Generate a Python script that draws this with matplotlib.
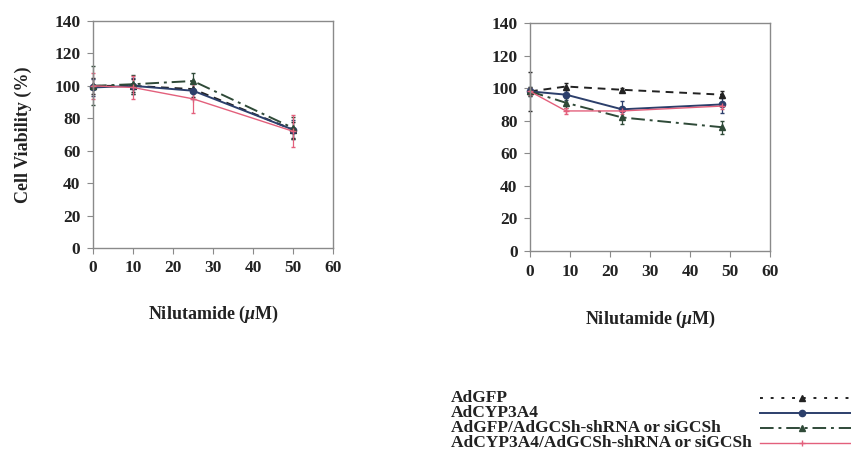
import matplotlib
matplotlib.use("Agg")
import matplotlib.pyplot as plt

# ---- data ----
conc_left = [0, 10, 25, 50]
conc_right = [0, 9, 23, 48]

series_names = ["AdGFP", "AdCYP3A4", "AdGFP/AdGCSh-shRNA or siGCSh",
                "AdCYP3A4/AdGCSh-shRNA or siGCSh"]

left_gfp = [100, 100, 98, 73]
left_cyp = [99, 100, 97, 73]
left_gfp_sh = [100, 101, 103, 74]
left_cyp_sh = [100, 99, 92, 72]
left_gfp_err = [5, 4, 5, 5]
left_cyp_err = [5, 5, 5, 6]
left_gfp_sh_err = [12, 6, 5, 7]
left_cyp_sh_err = [8, 7, 9, 10]

right_gfp = [98, 101, 99, 96]
right_cyp = [98, 96, 87, 90]
right_gfp_sh = [98, 91, 82, 76]
right_cyp_sh = [98, 86, 86, 89]
right_gfp_err = [12, 2, 1, 2]
right_cyp_err = [3, 3, 5, 5]
right_gfp_sh_err = [3, 3, 4, 4]
right_cyp_sh_err = [2, 2, 2, 2]

xticks = [0, 10, 20, 30, 40, 50, 60]
yticks = [0, 20, 40, 60, 80, 100, 120, 140]

# ---- styles ----
styles = [
    dict(color="#222222", ls=(0, (4, 3)), marker="^", ms=4.5, lw=1.4),
    dict(color="#2c3f6b", ls="-", marker="o", ms=4.5, lw=1.4),
    dict(color="#2f4a38", ls=(0, (7, 2.5, 1.5, 2.5)), marker="^", ms=4.5, lw=1.4),
    dict(color="#e3607c", ls="-", marker="+", ms=4, lw=1.0),
]
legend_ls = [(0, (1.5, 4)), "-", (0, (7, 2.5, 1.5, 2.5)), "-"]

serif = ["Liberation Serif", "DejaVu Serif"]
plt.rcParams["font.family"] = serif
plt.rcParams["font.weight"] = "bold"
plt.rcParams["mathtext.fontset"] = "custom"
plt.rcParams["mathtext.it"] = "Liberation Serif:italic:bold"
plt.rcParams["mathtext.rm"] = "Liberation Serif:bold"

fig = plt.figure(figsize=(8.51, 4.72), dpi=100)

TICK_FS = 12.5
LABEL_FS = 13

def setup(ax, xpad):
    ax.set_xlim(0, 60)
    ax.set_ylim(0, 140)
    ax.set_xticks(xticks)
    ax.set_yticks(yticks)
    for s in ax.spines.values():
        s.set_color("#8a8a8a")
        s.set_linewidth(1.0)
    ax.tick_params(direction="out", length=4, width=0.8, color="#8a8a8a",
                   labelsize=TICK_FS, pad=5)
    for lab in ax.get_xticklabels() + ax.get_yticklabels():
        lab.set_fontweight("bold")
        lab.set_color("#222222")
    ax.set_xlabel("Nilutamide ($\\mu$M)", fontsize=LABEL_FS, fontweight="bold",
                  labelpad=xpad, color="#222222")

axL = fig.add_axes([93/851, 1-248/472, 240/851, 227/472])
axR = fig.add_axes([530/851, 1-251/472, 240/851, 228/472])

left_vals = [(left_gfp, left_gfp_err), (left_cyp, left_cyp_err),
             (left_gfp_sh, left_gfp_sh_err), (left_cyp_sh, left_cyp_sh_err)]
right_vals = [(right_gfp, right_gfp_err), (right_cyp, right_cyp_err),
              (right_gfp_sh, right_gfp_sh_err), (right_cyp_sh, right_cyp_sh_err)]

for ax, xs, vals, xpad in [(axL, conc_left, left_vals, 20),
                           (axR, conc_right, right_vals, 21)]:
    for (y, e), st in zip(vals, styles):
        ax.errorbar(xs, y, yerr=e, color=st["color"], ls=st["ls"], lw=st["lw"],
                    marker=st["marker"], ms=st["ms"], elinewidth=0.9, capsize=1.5,
                    clip_on=False)
    setup(ax, xpad)

axL.set_ylabel("Cell Viability (%)", fontsize=LABEL_FS, fontweight="bold",
               labelpad=16, color="#222222")

# ---- legend ----
lg = fig.add_axes([0, 0, 1, 1], facecolor="none")
lg.set_xlim(0, 851)
lg.set_ylim(472, 0)
lg.axis("off")
rows_y = [398, 413, 428, 443]
for name, st, lls, yy in zip(series_names, styles, legend_ls, rows_y):
    lg.text(451, yy, name, fontsize=12.5, fontweight="bold", va="center",
            ha="left", color="#222222")
    lg.plot([760, 851], [yy, yy], color=st["color"], ls=lls, lw=st["lw"])
    lg.plot([802], [yy], color=st["color"], marker=st["marker"], ms=st["ms"],
            ls="none")

fig.savefig("out.png", dpi=100)
